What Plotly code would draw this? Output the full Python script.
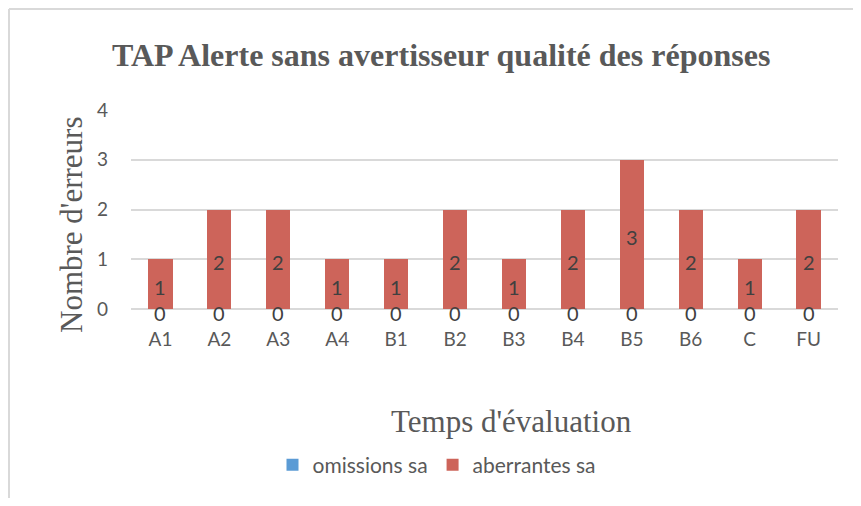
import plotly.graph_objects as go

categories = ["A1", "A2", "A3", "A4", "B1", "B2", "B3", "B4", "B5", "B6", "C", "FU"]
omissions_sa = [0, 0, 0, 0, 0, 0, 0, 0, 0, 0, 0, 0]
aberrantes_sa = [1, 2, 2, 1, 1, 2, 1, 2, 3, 2, 1, 2]
y_ticks = [0, 1, 2, 3, 4]

# The page body has an 8px margin, so the figure is laid out in page pixels minus 8.
OFF = 8
W, H = 845, 490
L, R, T, B = 131 - OFF, W - (838 - OFF), 110 - OFF, H - (309 - OFF)
pw, ph = W - L - R, H - T - B

def px(x):
    return (x - OFF - L) / pw

def py(y):
    return (H - B - (y - OFF)) / ph

blue = "#5b9bd5"
red = "#cd645a"
grey = "#595959"
label_col = "#404040"
sans = "Lato, Open Sans, Arial"
serif = "Liberation Serif, Times New Roman"

fig = go.Figure()
fig.add_trace(go.Bar(x=categories, y=omissions_sa, name="omissions sa",
                     marker=dict(color=blue, line=dict(width=0)), width=0.41))
fig.add_trace(go.Bar(x=categories, y=aberrantes_sa, name="aberrantes sa",
                     marker=dict(color=red, line=dict(width=0)), width=0.41))

# data labels (centred in each stacked segment)
annotations = []
for c, o, a in zip(categories, omissions_sa, aberrantes_sa):
    annotations.append(dict(x=c, y=o / 2, xref="x", yref="y", text=str(o), showarrow=False,
                            yshift=-4, font=dict(family=sans, size=20, color=label_col)))
    annotations.append(dict(x=c, y=o + a / 2, xref="x", yref="y", text=str(a), showarrow=False,
                            yshift=-3, font=dict(family=sans, size=20, color=label_col)))

annotations += [
    dict(text="<b>TAP Alerte sans avertisseur qualité des réponses</b>", xref="paper", yref="paper",
         x=px(441), y=py(55), xanchor="center", yanchor="middle", showarrow=False,
         font=dict(family=serif, size=32, color=grey)),
    dict(text="Nombre d'erreurs", xref="paper", yref="paper", textangle=-90,
         x=px(71), y=py(225), xanchor="center", yanchor="middle", showarrow=False,
         font=dict(family=serif, size=31, color=grey)),
    dict(text="Temps d'évaluation", xref="paper", yref="paper",
         x=px(511), y=py(421), xanchor="center", yanchor="middle", showarrow=False,
         font=dict(family=serif, size=31, color=grey)),
]

fig.update_layout(
    width=W, height=H,
    margin=dict(l=L, r=R, t=T, b=B, autoexpand=False),
    paper_bgcolor="white", plot_bgcolor="white",
    barmode="stack",
    bargap=0.59,
    showlegend=True,
    legend=dict(orientation="h", x=px(437), xanchor="center", y=py(465), yanchor="middle",
                font=dict(family=sans, size=21, color=grey),
                itemwidth=30, tracegroupgap=0, traceorder="normal"),
    xaxis=dict(showgrid=False, showline=False, ticks="", zeroline=False, automargin=False,
               tickfont=dict(family=sans, size=19, color=grey),
               ticklabelstandoff=17),
    yaxis=dict(range=[0, 4], tickvals=y_ticks, showgrid=True, gridcolor="#d9d9d9", gridwidth=1.5,
               zeroline=True, zerolinecolor="#d9d9d9", zerolinewidth=1.5, showline=False, ticks="",
               automargin=False,
               tickfont=dict(family=sans, size=19, color=grey),
               ticklabelstandoff=22),
    annotations=annotations,
    shapes=[
        dict(type="line", xref="paper", yref="paper", x0=px(9), y0=py(9), x1=px(900), y1=py(9),
             line=dict(color="#d9d9d9", width=2)),
        dict(type="line", xref="paper", yref="paper", x0=px(9), y0=py(9), x1=px(9), y1=py(540),
             line=dict(color="#d9d9d9", width=2)),
    ],
)

fig.write_html("out.html")
